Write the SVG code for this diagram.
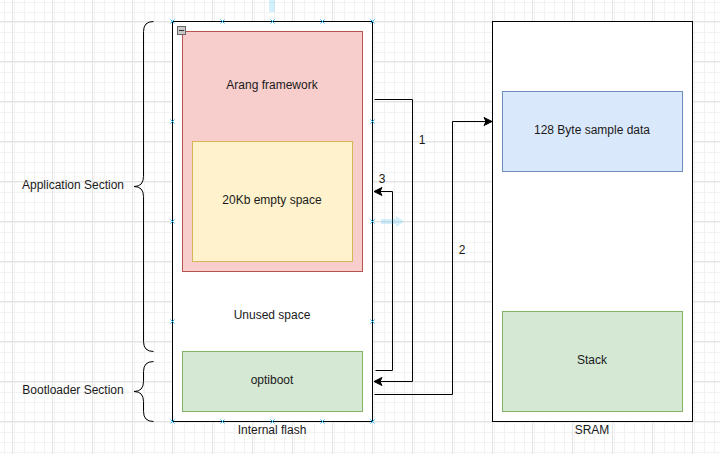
<svg xmlns="http://www.w3.org/2000/svg" width="720" height="454" viewBox="0 0 720 454">
<defs>
<pattern id="minor" patternUnits="userSpaceOnUse" x="12" y="21" width="10" height="10">
<path d="M0.5 0V10M0 0.5H10" stroke="#f2f2f2" stroke-width="1" fill="none"/>
</pattern>
<pattern id="major" patternUnits="userSpaceOnUse" x="12" y="21" width="40" height="40">
<rect width="40" height="40" fill="url(#minor)"/>
<path d="M0.5 0V40M0 0.5H40" stroke="#e4e4e4" stroke-width="1" fill="none"/>
</pattern>
<marker id="arr" markerWidth="10" markerHeight="10" viewBox="0 0 10 10" refX="9" refY="5" orient="auto" markerUnits="userSpaceOnUse">
<path d="M1,1 L9,5 L1,9 L3,5 Z" fill="#000" stroke="#000" stroke-width="1"/>
</marker>
</defs>
<style>
text{font-family:"Liberation Sans",Arial,sans-serif;font-size:12px;fill:#1a1a1a;text-anchor:middle}
.line{fill:none;stroke:#000;stroke-width:1}
.box{fill:#fff;stroke:#000;stroke-width:1}
.handle{stroke:#29b6f2;stroke-width:1;fill:none}
</style>
<rect width="720" height="454" fill="#fff"/>
<rect width="720" height="454" fill="url(#major)"/>

<g id="app-brace">
<path class="line" d="M153.5,21.5 Q143.5,21.5 143.5,31.5 L143.5,176.5 Q143.5,186.5 134,186.5 Q143.5,186.5 143.5,196.5 L143.5,341.5 Q143.5,351.5 153.5,351.5"/>
<text x="73" y="189">Application Section</text>
</g>
<g id="boot-brace">
<path class="line" d="M153.5,361.5 Q143.5,361.5 143.5,371.5 L143.5,381.5 Q143.5,391.5 134,391.5 Q143.5,391.5 143.5,401.5 L143.5,411.5 Q143.5,421.5 153.5,421.5"/>
<text x="73" y="394">Bootloader Section</text>
</g>

<g id="internal-flash">
<rect class="box" x="172.5" y="21.5" width="200" height="400"/>
<text x="272" y="319">Unused space</text>
<text x="272" y="434">Internal flash</text>
</g>
<g id="arang">
<rect x="182.5" y="31.5" width="180" height="240" fill="#f8cecc" stroke="#b85450"/>
<text x="272" y="89">Arang framework</text>
</g>
<g id="empty">
<rect x="192.5" y="141.5" width="160" height="120" fill="#fff2cc" stroke="#d6b656"/>
<text x="272" y="204">20Kb empty space</text>
</g>
<g id="optiboot">
<rect x="182.5" y="351.5" width="180" height="60" fill="#d5e8d4" stroke="#82b366"/>
<text x="272" y="384">optiboot</text>
</g>
<g id="fold-icon">
<rect x="177.5" y="26.5" width="8" height="8" fill="#c8c8c8" stroke="#666"/>
<path d="M179,30.5H184" stroke="#333"/>
</g>

<g id="sram">
<rect class="box" x="492.5" y="21.5" width="200" height="400"/>
<text x="592" y="434">SRAM</text>
</g>
<g id="sample">
<rect x="502.5" y="91.5" width="180" height="80" fill="#dae8fc" stroke="#6c8ebf"/>
<text x="592" y="134">128 Byte sample data</text>
</g>
<g id="stack">
<rect x="502.5" y="311.5" width="180" height="100" fill="#d5e8d4" stroke="#82b366"/>
<text x="592" y="364">Stack</text>
</g>

<g id="connectors">
<path class="line" d="M374.5,99.5 H412.5 V381.5 H374" marker-end="url(#arr)"/>
<text x="422" y="144">1</text>
<path class="line" d="M374.5,394.5 H452.5 V121.5 H492" marker-end="url(#arr)"/>
<text x="462" y="254">2</text>
<path class="line" d="M375.5,370.5 H392.5 V191.5 H374" marker-end="url(#arr)"/>
<text x="382" y="183">3</text>
</g>

<g id="hover">
<path d="M269,0 H275 V12 H269 Z" fill="#29b6f2" opacity="0.2"/>
<path d="M381,219 H396 V216 L404,221.5 L396,227 V224 H381 Z" fill="#29b6f2" opacity="0.2"/>
<path class="handle" d="M170.5,19.5l4,4m0,-4l-4,4 M220.5,19.5l4,4m0,-4l-4,4 M270.5,19.5l4,4m0,-4l-4,4 M320.5,19.5l4,4m0,-4l-4,4 M370.5,19.5l4,4m0,-4l-4,4
M170.5,419.5l4,4m0,-4l-4,4 M220.5,419.5l4,4m0,-4l-4,4 M270.5,419.5l4,4m0,-4l-4,4 M320.5,419.5l4,4m0,-4l-4,4 M370.5,419.5l4,4m0,-4l-4,4
M170.5,119.5l4,4m0,-4l-4,4 M170.5,219.5l4,4m0,-4l-4,4 M170.5,319.5l4,4m0,-4l-4,4
M370.5,119.5l4,4m0,-4l-4,4 M370.5,219.5l4,4m0,-4l-4,4 M370.5,319.5l4,4m0,-4l-4,4"/>
</g>
</svg>
